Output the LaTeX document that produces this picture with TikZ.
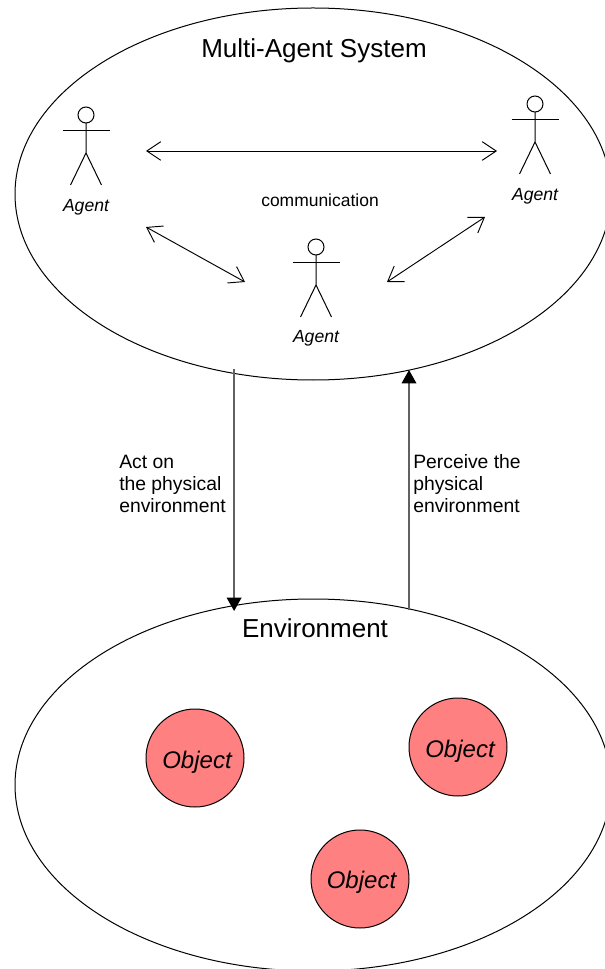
\documentclass[tikz,border=0pt]{standalone}
\usepackage{fontspec}
\setmainfont{Liberation Sans}
\usetikzlibrary{arrows.meta,shapes.geometric}
\tikzset{
  x=0.75pt,y=-0.75pt,
  world/.style={draw,ellipse,line width=0.75pt,minimum width=447pt,minimum height=279pt,inner sep=0pt},
  obj/.style={draw,circle,fill=objred,line width=0.75pt,minimum size=73.5pt,inner sep=0pt},
  objtext/.style={inner sep=0pt,font=\fontsize{18}{20}\selectfont\itshape},
  agentlabel/.style={inner sep=0pt,font=\fontsize{13.2}{15}\selectfont\itshape},
  lbl/.style={inner sep=0pt,align=left,font=\fontsize{14.5}{16.4}\selectfont},
  title/.style={inner sep=0pt,font=\fontsize{19.5}{22}\selectfont},
  talk/.style={line width=0.7pt,{Straight Barb[length=10.5pt,width=14pt,line width=0.7pt]}-{Straight Barb[length=10.5pt,width=14pt,line width=0.7pt]}},
  flow/.style={line width=1pt,draw=black!62,-{Triangle[length=10pt,width=11pt,fill=black,color=black]}},
  pics/actor/.style={code={
    \draw[line width=0.75pt] (0,0) circle[radius=6pt];
    \draw[line width=0.75pt] (-23.5,16) -- (23.5,16);
    \draw[line width=0.75pt] (0,8) -- (0,38) (-15.5,70) -- (0,38) -- (15.5,70);
  }}
}
\definecolor{objred}{HTML}{FF8080}
\begin{document}
\begin{tikzpicture}
\useasboundingbox (0,0) rectangle (605,969);
\clip (0,0) rectangle (605,969);
\node[world] (mas) at (313,194) {};
\node[world] (env) at (313,785) {};
\node[title] (mastitle) at (314,51) {Multi-Agent System};
\node[title] (envtitle) at (315,628) {Environment};
\pic at (86,115) {actor};
\pic at (316,247) {actor};
\pic at (535,104) {actor};
\node[agentlabel] (a1) at (86,207) {Agent};
\node[agentlabel] (a2) at (316,338) {Agent};
\node[agentlabel] (a3) at (535,196) {Agent};
\node[inner sep=0pt,font=\fontsize{13.1}{15}\selectfont] (comm) at (320,200.5) {communication};
\coordinate (h1) at (146,151);
\coordinate (h2) at (497,151);
\coordinate (d1) at (146,227);
\coordinate (d2) at (245,282);
\coordinate (d3) at (387,282);
\coordinate (d4) at (485,217);
\draw[talk] (h1) -- (h2);
\draw[talk] (d1) -- (d2);
\draw[talk] (d3) -- (d4);
\coordinate (act0) at (234.1,369);
\coordinate (act1) at (234.1,611);
\coordinate (per0) at (409,610);
\coordinate (per1) at (409,370);
\draw[flow] (act0) -- (act1);
\draw[flow] (per0) -- (per1);
\node[lbl,anchor=north west] (actl) at (119,455) {Act on\\the physical\\environment};
\node[lbl,anchor=north west] (perl) at (413,454) {Perceive the\\physical\\environment};
\node[obj] (o1) at (195,758) {};
\node[obj] (o2) at (458,747) {};
\node[obj] (o3) at (360,879) {};
\node[objtext] (t1) at (197,762) {Object};
\node[objtext] (t2) at (460,751) {Object};
\node[objtext] (t3) at (361.5,882) {Object};
\end{tikzpicture}
\end{document}
